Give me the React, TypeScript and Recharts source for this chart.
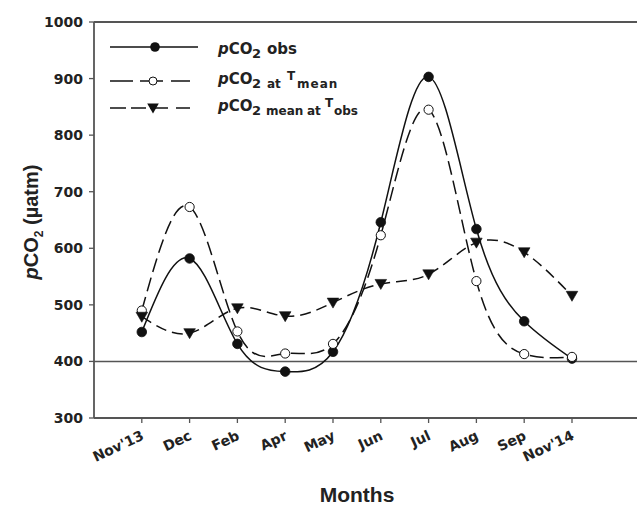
import React from "react";
import { LineChart, Line, XAxis, YAxis, ReferenceLine } from "recharts";

const months = ["Nov'13", "Dec", "Feb", "Apr", "May", "Jun", "Jul", "Aug", "Sep", "Nov'14"];
const monthIndex = [1, 2, 3, 4, 5, 6, 7, 8, 9, 10];
const pco2Obs = [452, 582, 431, 382, 417, 646, 903, 634, 471, 405];
const pco2Tmean = [490, 673, 453, 414, 431, 623, 845, 542, 413, 408];
const pco2MeanTobs = [479, 450, 494, 480, 504, 537, 554, 610, 593, 516];
const yTicks = [300, 400, 500, 600, 700, 800, 900, 1000];

const data = monthIndex.map((m, i) => ({
  x: m,
  obs: pco2Obs[i],
  tmean: pco2Tmean[i],
  tobs: pco2MeanTobs[i],
}));

const AXIS = "#555";
const INK = "#111";
const TICK_FONT = "'DejaVu Sans', sans-serif";
const LABEL_FONT = "'Liberation Sans', Arial, sans-serif";

const FilledDot = (p: any) =>
  p.cx == null ? null : <circle key={`f${p.index}`} cx={p.cx} cy={p.cy} r={4.8} fill={INK} stroke={INK} strokeWidth={0.8} />;
const OpenDot = (p: any) =>
  p.cx == null ? null : <circle key={`o${p.index}`} cx={p.cx} cy={p.cy} r={4.6} fill="#fff" stroke={INK} strokeWidth={1} />;
const TriDot = (p: any) =>
  p.cx == null ? null : (
    <path
      key={`t${p.index}`}
      d={`M${p.cx - 5.8},${p.cy - 4.5} L${p.cx + 5.8},${p.cy - 4.5} L${p.cx},${p.cy + 5.5} Z`}
      fill={INK}
      stroke={INK}
      strokeWidth={0.6}
    />
  );

const XTick = (p: any) => {
  const { x, y, payload } = p;
  const ax = x + 3;
  const ay = y + 14;
  return (
    <text
      x={ax}
      y={ay}
      textAnchor="end"
      transform={`rotate(-25, ${ax}, ${ay})`}
      fontFamily={TICK_FONT}
      fontWeight="bold"
      fontSize={14}
      fill="#222"
    >
      {months[payload.value - 1]}
    </text>
  );
};

const Overlay = () => {
  const rows = [47, 81, 108];
  const x0 = 110;
  const x1 = 198;
  const mx = 155;
  const big = { fontFamily: TICK_FONT, fontWeight: "bold" as const, fontSize: 15, fill: "#222" };
  const sub = { fontSize: 13 };
  const small = { fontSize: 12 };
  return (
    <svg width={637} height={507} style={{ position: "absolute", left: 0, top: 0, pointerEvents: "none" }}>
      {/* axis titles */}
      <text x={357} y={502} textAnchor="middle" fontFamily={LABEL_FONT} fontWeight="bold" fontSize={21} fill="#222">
        Months
      </text>
      <text
        x={38}
        y={222}
        textAnchor="middle"
        transform="rotate(-90, 38, 222)"
        fontFamily={LABEL_FONT}
        fontWeight="bold"
        fontSize={20}
        fill="#222"
      >
        <tspan fontStyle="italic">p</tspan>
        <tspan>CO</tspan>
        <tspan fontSize={12} dy={5}>2</tspan>
        <tspan dy={-5}> (µatm)</tspan>
      </text>

      {/* legend row 1 */}
      <line x1={x0} x2={x1} y1={rows[0]} y2={rows[0]} stroke={INK} strokeWidth={1.5} />
      <circle cx={mx} cy={rows[0]} r={4.8} fill={INK} />
      <text {...big}>
        <tspan x={218} y={54} fontStyle="italic">p</tspan>
        <tspan>CO</tspan>
        <tspan x={252} y={58} {...sub}>2</tspan>
        <tspan x={267} y={54}>obs</tspan>
      </text>

      {/* legend row 2 */}
      <line x1={x0} x2={x0 + 23} y1={rows[1]} y2={rows[1]} stroke={INK} strokeWidth={1.5} />
      <line x1={x0 + 30} x2={mx - 6} y1={rows[1]} y2={rows[1]} stroke={INK} strokeWidth={1.5} />
      <line x1={mx + 2} x2={mx + 8} y1={rows[1]} y2={rows[1]} stroke={INK} strokeWidth={1.5} />
      <line x1={mx + 16} x2={x1 - 8} y1={rows[1]} y2={rows[1]} stroke={INK} strokeWidth={1.5} />
      <circle cx={mx - 2} cy={rows[1]} r={4} fill="#fff" stroke={INK} strokeWidth={1} />
      <text {...big}>
        <tspan x={218} y={84} fontStyle="italic">p</tspan>
        <tspan>CO</tspan>
        <tspan x={252} y={88} {...sub}>2</tspan>
        <tspan x={267} y={88} {...small}>at</tspan>
        <tspan x={287} y={80} {...small}>T</tspan>
        <tspan x={297} y={88} {...small} letterSpacing={1}>mean</tspan>
      </text>

      {/* legend row 3 */}
      <line x1={x0} x2={x0 + 16} y1={rows[2]} y2={rows[2]} stroke={INK} strokeWidth={1.5} />
      <line x1={x0 + 21} x2={x0 + 36} y1={rows[2]} y2={rows[2]} stroke={INK} strokeWidth={1.5} />
      <line x1={x0 + 40} x2={x0 + 58} y1={rows[2]} y2={rows[2]} stroke={INK} strokeWidth={1.5} />
      <line x1={x0 + 66} x2={x1 - 8} y1={rows[2]} y2={rows[2]} stroke={INK} strokeWidth={1.5} />
      <path
        d={`M${mx - 2 - 5.8},${rows[2] - 4.5} L${mx - 2 + 5.8},${rows[2] - 4.5} L${mx - 2},${rows[2] + 5.5} Z`}
        fill={INK}
      />
      <text {...big}>
        <tspan x={218} y={111} fontStyle="italic">p</tspan>
        <tspan>CO</tspan>
        <tspan x={252} y={115} {...sub}>2</tspan>
        <tspan x={266} y={115} {...small}>mean</tspan>
        <tspan x={307} y={115} {...small}>at</tspan>
        <tspan x={325} y={107} {...small}>T</tspan>
        <tspan x={334} y={115} {...small}>obs</tspan>
      </text>
    </svg>
  );
};

export default function App() {
  return (
    <div
      style={{
        position: "absolute",
        left: 0,
        top: 0,
        width: 637,
        height: 507,
        overflow: "hidden",
        background: "#fff",
      }}
    >
      <LineChart width={637} height={507} data={data} margin={{ top: 22, right: 0, bottom: 0, left: 0 }}>
        <XAxis
          dataKey="x"
          type="number"
          domain={[0, 11.36]}
          ticks={monthIndex}
          interval={0}
          allowDataOverflow
          height={89}
          tickSize={5}
          tickLine={{ stroke: AXIS, strokeWidth: 1.3 }}
          axisLine={{ stroke: AXIS, strokeWidth: 1.8 }}
          tick={<XTick />}
        />
        <YAxis
          type="number"
          domain={[300, 1000]}
          ticks={yTicks}
          interval={0}
          width={94}
          tickSize={5}
          tickMargin={6}
          tickLine={{ stroke: AXIS, strokeWidth: 1.3 }}
          axisLine={{ stroke: AXIS, strokeWidth: 1.8 }}
          tick={{ fontFamily: TICK_FONT, fontWeight: "bold", fontSize: 14, fill: "#222" }}
        />
        <ReferenceLine y={400} stroke={AXIS} strokeWidth={1.5} />
        <ReferenceLine y={1000} stroke={AXIS} strokeWidth={2} />
        <Line
          type="natural"
          dataKey="obs"
          stroke={INK}
          strokeWidth={1.5}
          dot={FilledDot}
          activeDot={false}
          isAnimationActive={false}
        />
        <Line
          type="natural"
          dataKey="tmean"
          stroke={INK}
          strokeWidth={1.5}
          strokeDasharray="14 6"
          dot={OpenDot}
          activeDot={false}
          isAnimationActive={false}
        />
        <Line
          type="natural"
          dataKey="tobs"
          stroke={INK}
          strokeWidth={1.5}
          strokeDasharray="11 6"
          dot={TriDot}
          activeDot={false}
          isAnimationActive={false}
        />
      </LineChart>
      <Overlay />
    </div>
  );
}
